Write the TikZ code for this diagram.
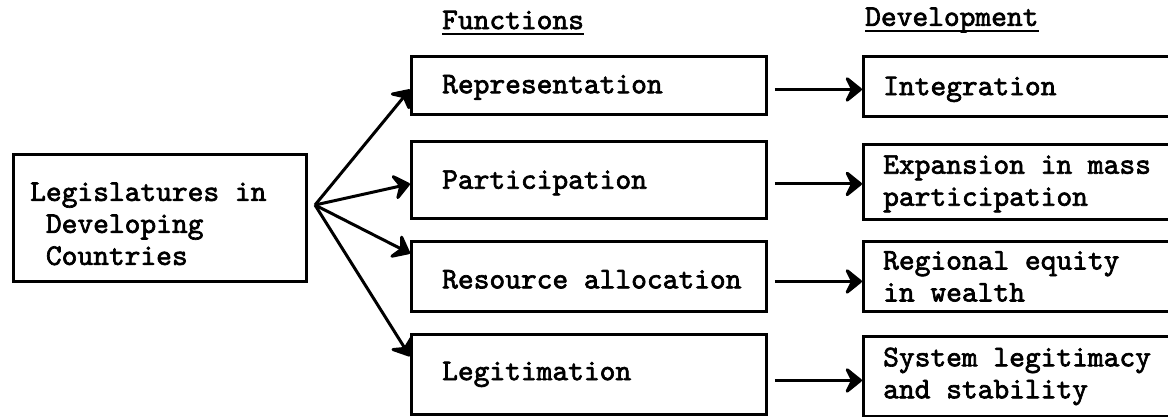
\documentclass[tikz,border=0pt]{standalone}
\usepackage{fontspec}
\newfontfamily\twfont{lmmono10-regular}[Extension=.otf, FakeBold=2.2]
\usetikzlibrary{arrows.meta}
\begin{document}
\begin{tikzpicture}[x=1pt,y=-1pt,
  box/.style={draw, line width=2.8pt, rectangle, inner sep=0pt, anchor=north west},
  txt/.style={font=\fontsize{30}{32}\selectfont\twfont, inner sep=0pt, anchor=west, align=left},
  arr/.style={line width=3pt, -{Stealth[length=20pt,width=32pt,inset=8pt,round]}}]
\useasboundingbox (0,0) rectangle (1168,416);
% headers
\node[txt] (hf) at (442,20) {Functions};
\node[txt] (hd) at (865,20) {Development};
\draw[line width=2.2pt] ([yshift=-5pt]hf.base west) -- ([yshift=-5pt]hf.base east);
\draw[line width=2.2pt] ([yshift=-5pt]hd.base west) -- ([yshift=-5pt]hd.base east);
% left box
\node[box, minimum width=293pt, minimum height=127pt] (lb) at (12,153) {};
\node[txt] (lt) at ([xshift=18pt,yshift=-6pt]lb.west) {Legislatures in\\~Developing\\~Countries};
% function boxes
\node[box, minimum width=355pt, minimum height=58pt] (f1) at (410,55) {};
\node[box, minimum width=355pt, minimum height=77pt] (f2) at (410,140) {};
\node[box, minimum width=355pt, minimum height=70pt] (f3) at (410,240) {};
\node[box, minimum width=355pt, minimum height=80pt] (f4) at (410,333) {};
\node[txt] (t1) at ([xshift=32pt,yshift=-2pt]f1.west) {Representation};
\node[txt] (t2) at ([xshift=32pt,yshift=-3pt]f2.west) {Participation};
\node[txt] (t3) at ([xshift=32pt,yshift=-3pt]f3.west) {Resource allocation};
\node[txt] (t4) at ([xshift=32pt]f4.west) {Legitimation};
% development boxes
\node[box, minimum width=330pt, minimum height=60pt] (d1) at (862,55) {};
\node[box, minimum width=330pt, minimum height=75pt] (d2) at (862,143) {};
\node[box, minimum width=330pt, minimum height=70pt] (d3) at (862,240) {};
\node[box, minimum width=330pt, minimum height=80pt] (d4) at (862,335) {};
\node[txt] (u1) at ([xshift=21pt,yshift=-3pt]d1.west) {Integration};
\node[txt] (u2) at ([xshift=21pt,yshift=-2pt]d2.west) {Expansion in mass\\participation};
\node[txt] (u3) at ([xshift=21pt,yshift=0pt]d3.west) {Regional equity\\in wealth};
\node[txt] (u4) at ([xshift=21pt,yshift=0pt]d4.west) {System legitimacy\\and stability};
% diagonal arrows
\coordinate (src) at (315,205);
\draw[arr] (src) -- ([yshift=-4pt]f1.west);
\draw[arr] (src) -- ([yshift=-4pt]f2.west);
\draw[arr] (src) -- ([yshift=23pt]f3.west);
\draw[arr] (src) -- ([yshift=18pt]f4.west);
% horizontal arrows
\draw[arr] ([xshift=7pt,yshift=-4pt]f1.east) -- ([yshift=-4pt]f1.east -| d1.west);
\draw[arr] ([xshift=7pt,yshift=-4pt]f2.east) -- ([yshift=-4pt]f2.east -| d2.west);
\draw[arr] ([xshift=7pt,yshift=-5pt]f3.east) -- ([yshift=-5pt]f3.east -| d3.west);
\draw[arr] ([xshift=7pt,yshift=-6pt]f4.east) -- ([yshift=-6pt]f4.east -| d4.west);
\end{tikzpicture}
\end{document}
